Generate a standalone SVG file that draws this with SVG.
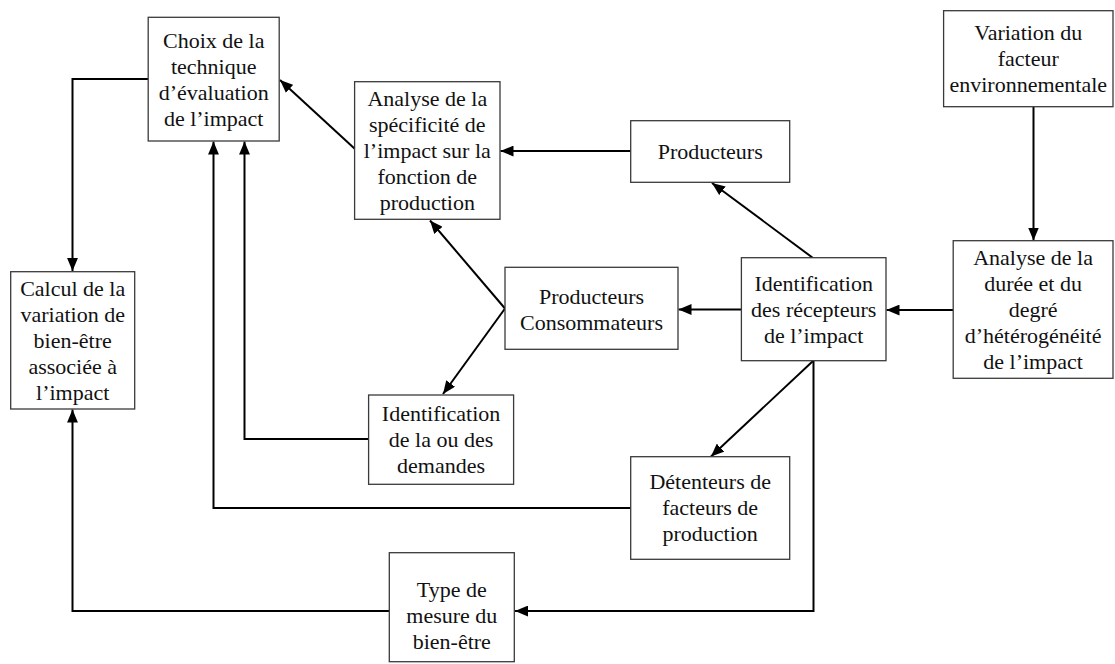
<svg xmlns="http://www.w3.org/2000/svg" width="1115" height="664" viewBox="0 0 1115 664">
<style>
.box{fill:#fff;stroke:#3a3a3a;stroke-width:1.3}
text{font-family:"Liberation Serif","Times New Roman",serif;font-size:22px;fill:#111;text-anchor:middle}
.c{fill:none;stroke:#000;stroke-width:2;marker-end:url(#ah)}
</style>
<defs>
<marker id="ah" markerUnits="userSpaceOnUse" markerWidth="13" markerHeight="11" refX="12" refY="5" orient="auto" viewBox="0 0 12 10">
<path d="M0,0 L12,5 L0,10 z" fill="#000"/>
</marker>
</defs>
<rect width="1115" height="664" fill="#fff"/>
<g id="connectors">
<path class="c" d="M148,79 H72.5 V271"/>
<path class="c" d="M355,149 L280,80"/>
<path class="c" d="M631,151 H500.5"/>
<path class="c" d="M505,308.5 L430,220.5"/>
<path class="c" d="M505,308.5 L443,394"/>
<path class="c" d="M369,439 H244.5 V141.5"/>
<path class="c" d="M631,508 H213.5 V141.5"/>
<path class="c" d="M741,309.5 H678.5"/>
<path class="c" d="M813,258 L712,183"/>
<path class="c" d="M813,361 L711,456.5"/>
<path class="c" d="M813.5,361 V611 H515"/>
<path class="c" d="M389,611 H72.5 V409.5"/>
<path class="c" d="M953,310 H886.5"/>
<path class="c" d="M1033.5,107 V240.5"/>
</g>
<g id="choix">
<rect class="box" x="148.2" y="17.3" width="131" height="123.7"/>
<text x="213.7" y="48">Choix de la</text>
<text x="213.7" y="74">technique</text>
<text x="213.7" y="100">d’évaluation</text>
<text x="213.7" y="126">de l’impact</text>
</g>
<g id="calcul">
<rect class="box" x="10.7" y="271.7" width="124" height="137.3"/>
<text x="72.7" y="295.5">Calcul de la</text>
<text x="72.7" y="321.5">variation de</text>
<text x="72.7" y="347.5">bien-être</text>
<text x="72.7" y="373.5">associée à</text>
<text x="72.7" y="399.5">l’impact</text>
</g>
<g id="analyse-specificite">
<rect class="box" x="354.6" y="81.7" width="145.4" height="137.6"/>
<text x="427.3" y="105.5">Analyse de la</text>
<text x="427.3" y="131.5">spécificité de</text>
<text x="427.3" y="157.5">l’impact sur la</text>
<text x="427.3" y="183.5">fonction de</text>
<text x="427.3" y="209.5">production</text>
</g>
<g id="producteurs">
<rect class="box" x="630.7" y="120.7" width="159" height="61.6"/>
<text x="710.2" y="159">Producteurs</text>
</g>
<g id="producteurs-consommateurs">
<rect class="box" x="505" y="267.3" width="173" height="82"/>
<text x="591.5" y="304">Producteurs</text>
<text x="591.5" y="330">Consommateurs</text>
</g>
<g id="identification-demandes">
<rect class="box" x="368.6" y="395" width="145" height="89.3"/>
<text x="441.1" y="421">Identification</text>
<text x="441.1" y="447">de la ou des</text>
<text x="441.1" y="473">demandes</text>
</g>
<g id="detenteurs">
<rect class="box" x="630.7" y="456.7" width="159" height="102.6"/>
<text x="710.2" y="489">Détenteurs de</text>
<text x="710.2" y="515">facteurs de</text>
<text x="710.2" y="541">production</text>
</g>
<g id="identification-recepteurs">
<rect class="box" x="741.4" y="257.7" width="144.6" height="103"/>
<text x="813.7" y="290.5">Identification</text>
<text x="813.7" y="316.5">des récepteurs</text>
<text x="813.7" y="342.5">de l’impact</text>
</g>
<g id="type-mesure">
<rect class="box" x="389.3" y="552.7" width="125" height="109"/>
<text x="451.8" y="597">Type de</text>
<text x="451.8" y="623">mesure du</text>
<text x="451.8" y="649">bien-être</text>
</g>
<g id="analyse-duree">
<rect class="box" x="953.2" y="240.7" width="159.8" height="137.6"/>
<text x="1033.1" y="264.5">Analyse de la</text>
<text x="1033.1" y="290.5">durée et du</text>
<text x="1033.1" y="316.5">degré</text>
<text x="1033.1" y="342.5">d’hétérogénéité</text>
<text x="1033.1" y="368.5">de l’impact</text>
</g>
<g id="variation">
<rect class="box" x="943.6" y="10.7" width="169.4" height="96"/>
<text x="1028.3" y="40">Variation du</text>
<text x="1028.3" y="66">facteur</text>
<text x="1028.3" y="92">environnementale</text>
</g>
</svg>
